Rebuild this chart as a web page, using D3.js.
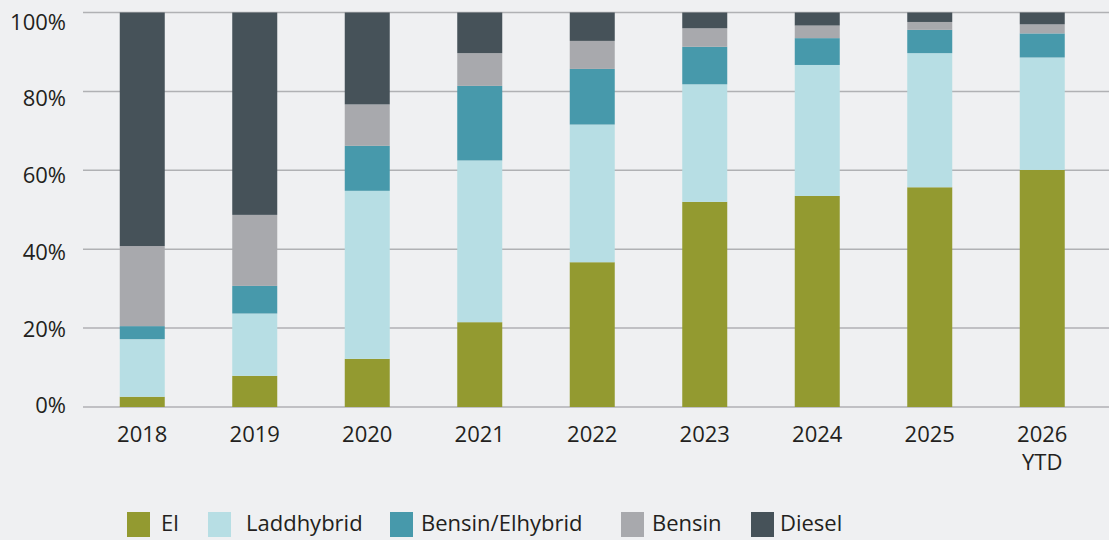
<!DOCTYPE html>
<html>
<head>
<meta charset="utf-8">
<script src="https://cdn.jsdelivr.net/npm/d3@7"></script>
<style>
  html, body { margin: 0; padding: 0; background: #eff0f2; }
  svg { display: block; font-family: "Open Sans", "Noto Sans", sans-serif; }
  .tick-label { font-size: 22px; fill: #231f20; }
  .legend-label { font-size: 22px; fill: #231f20; }
</style>
</head>
<body>
<svg id="chart"></svg>
<script>
// Data (percent of total)
const years = ['2018', '2019', '2020', '2021', '2022', '2023', '2024', '2025', '2026 YTD'];
const series = ['El', 'Laddhybrid', 'Bensin/Elhybrid', 'Bensin', 'Diesel'];
const el         = [2.6, 7.9, 12.2, 21.5, 36.7, 52.0, 53.5, 55.7, 60.1];
const laddhybrid = [14.6, 15.8, 42.6, 41.0, 34.9, 29.8, 33.2, 34.0, 28.5];
const bensinEl   = [3.3, 7.0, 11.4, 18.9, 14.1, 9.5, 6.8, 5.9, 6.1];
const bensin     = [20.3, 18.0, 10.5, 8.3, 7.1, 4.7, 3.2, 2.0, 2.3];
const diesel     = [59.2, 51.3, 23.3, 10.3, 7.2, 4.0, 3.3, 2.4, 3.0];
const yTicks = [0, 20, 40, 60, 80, 100];

const colors = ['#939a30', '#b7dee4', '#4799ab', '#a8a9ad', '#465259'];

const width = 1109, height = 540;
const margin = {top: 12.5, right: 10, bottom: 133, left: 83};

const svg = d3.select('#chart')
    .attr('width', width)
    .attr('height', height);

const rows = years.map((y, i) => ({
  year: y,
  'El': el[i],
  'Laddhybrid': laddhybrid[i],
  'Bensin/Elhybrid': bensinEl[i],
  'Bensin': bensin[i],
  'Diesel': diesel[i]
}));

// Normalise each bar to 100%
const stacked = d3.stack().keys(series).offset(d3.stackOffsetExpand)(rows);

const x = d3.scaleBand()
    .domain(years)
    .range([86, 1098.5])
    .paddingInner(0.6)
    .paddingOuter(0.3);

const y = d3.scaleLinear()
    .domain([0, 1])
    .range([height - margin.bottom, margin.top]);

// the tick labels sit on a slightly tighter spacing than the gridlines
const yLabel = d3.scaleLinear()
    .domain([0, 100])
    .range([405.5, 22]);

const color = d3.scaleOrdinal().domain(series).range(colors);

// Gridlines
svg.append('g')
  .selectAll('line')
  .data(yTicks)
  .join('line')
    .attr('x1', margin.left)
    .attr('x2', width)
    .attr('y1', d => y(d / 100))
    .attr('y2', d => y(d / 100))
    .attr('stroke', '#b0b1b4')
    .attr('stroke-width', 1.5);

// Y labels
svg.append('g')
  .selectAll('text')
  .data(yTicks)
  .join('text')
    .attr('class', 'tick-label')
    .attr('x', 66)
    .attr('y', d => yLabel(d))
    .attr('dy', '0.35em')
    .attr('text-anchor', 'end')
    .text(d => d + '%');

// Bars
svg.append('g')
  .selectAll('g')
  .data(stacked)
  .join('g')
    .attr('fill', d => color(d.key))
  .selectAll('rect')
  .data(d => d)
  .join('rect')
    .attr('x', d => x(d.data.year))
    .attr('width', x.bandwidth())
    .attr('y', d => y(d[1]))
    .attr('height', d => y(d[0]) - y(d[1]));

// X labels (two lines for YTD)
const xLabels = svg.append('g')
  .selectAll('text')
  .data(years)
  .join('text')
    .attr('class', 'tick-label')
    .attr('text-anchor', 'middle')
    .attr('x', d => x(d) + x.bandwidth() / 2)
    .attr('y', 441.5);

xLabels.selectAll('tspan')
  .data(d => d.split(' '))
  .join('tspan')
    .attr('x', function() { return this.parentNode.getAttribute('x'); })
    .attr('dy', (d, i) => i === 0 ? 0 : 28)
    .text(d => d);

// Legend
const legendX = [127, 208, 390, 621, 751];
const legendTextX = [161, 246, 421, 652, 780];

const legend = svg.append('g')
  .selectAll('g')
  .data(series)
  .join('g');

legend.append('rect')
    .attr('x', (d, i) => legendX[i])
    .attr('y', 512)
    .attr('width', 23)
    .attr('height', 25)
    .attr('fill', d => color(d));

legend.append('text')
    .attr('class', 'legend-label')
    .attr('x', (d, i) => legendTextX[i])
    .attr('y', 531)
    .text(d => d);
</script>
</body>
</html>
